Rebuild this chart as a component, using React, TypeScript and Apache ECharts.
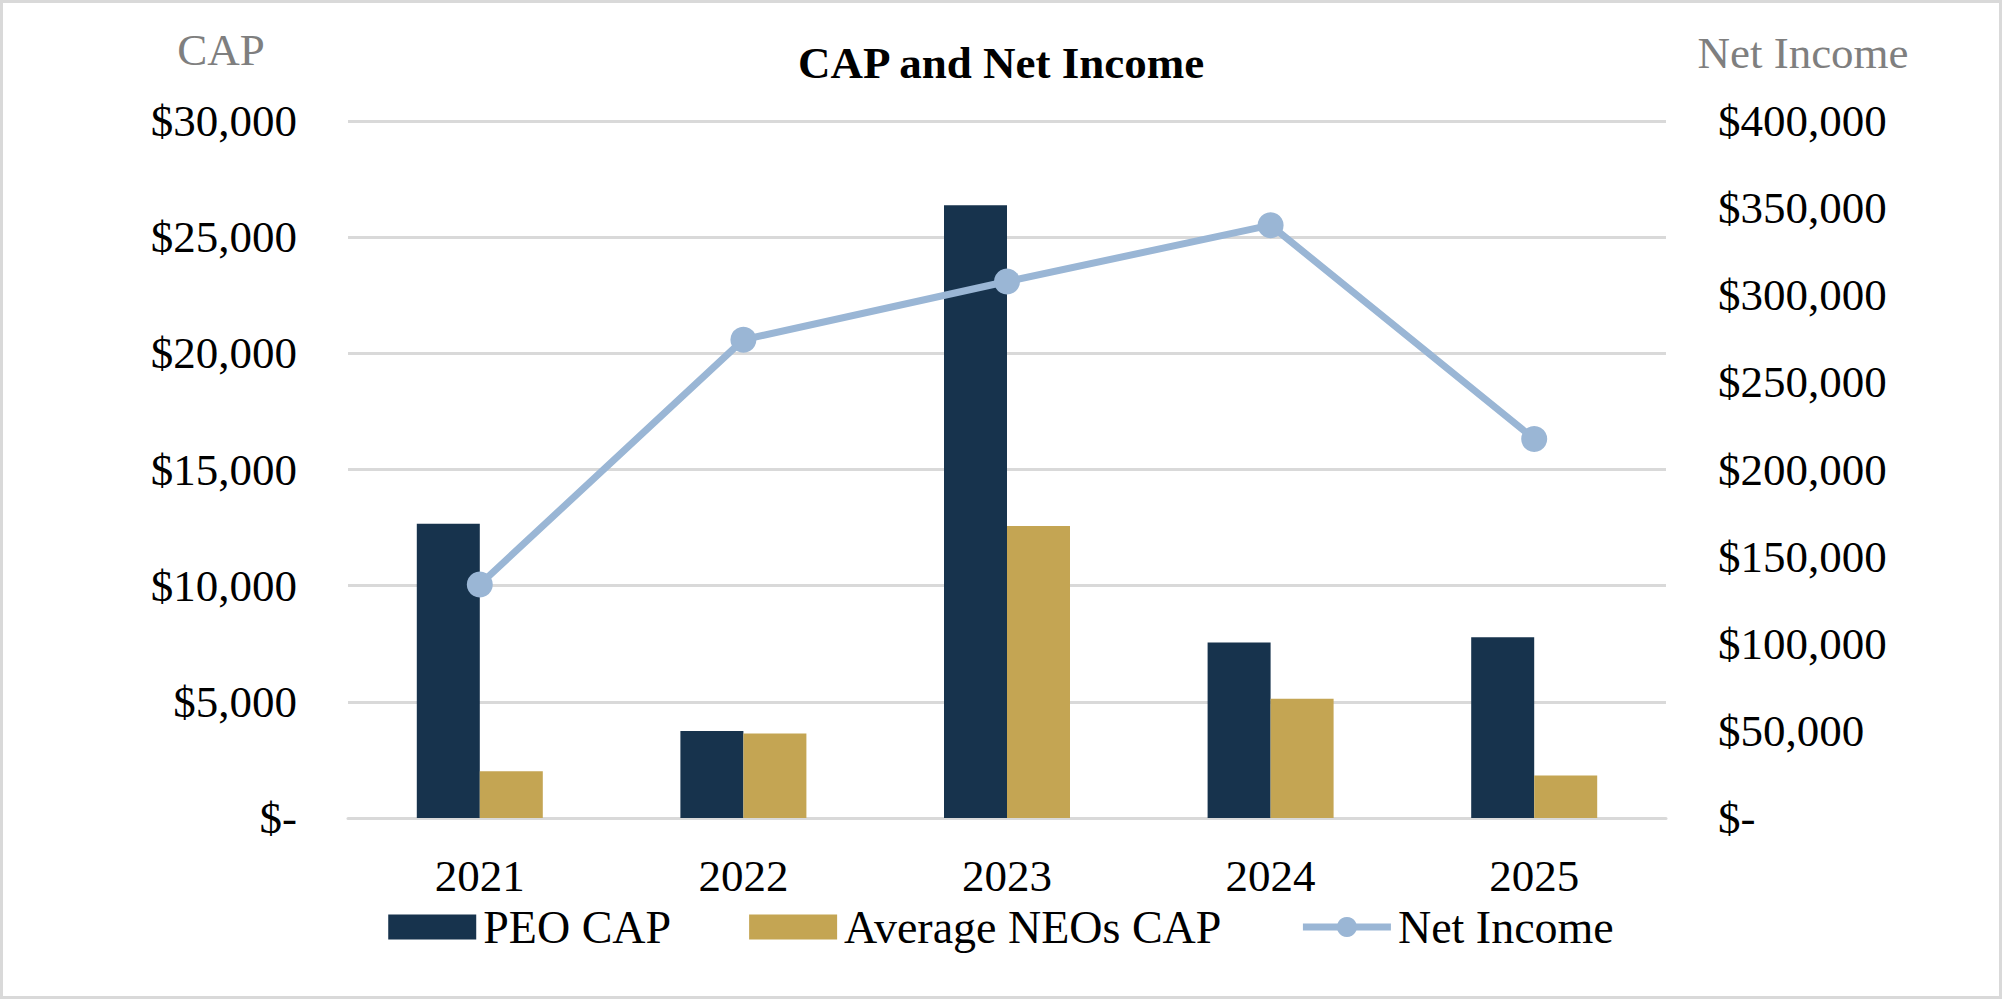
import React, { useEffect, useRef } from "react";
import * as echarts from "echarts";

const categories = ["2021", "2022", "2023", "2024", "2025"];
const peoCap = [12660, 3750, 26370, 7555, 7776];
const neoCap = [2010, 3640, 12570, 5130, 1830];
const netIncome = [134000, 274500, 307900, 340200, 217500];
const leftTicks = { min: 0, max: 30000, interval: 5000 };
const rightTicks = { min: 0, max: 400000, interval: 50000 };

const FONT = "'Liberation Serif', 'Times New Roman', serif";

const money = (v: number) => (v === 0 ? "$-" : "$" + v.toLocaleString("en-US"));

export default function App() {
  const ref = useRef<HTMLDivElement>(null);
  useEffect(() => {
    if (!ref.current) return;
    const chart = echarts.init(ref.current, null, { renderer: "svg" });
    chart.setOption({
      animation: false,
      backgroundColor: "#ffffff",
      textStyle: { fontFamily: FONT },
      title: {
        text: "CAP and Net Income",
        left: "center",
        top: 40,
        padding: 0,
        textStyle: { fontFamily: FONT, fontSize: 45, fontWeight: "bold", color: "#000000" },
      },
      graphic: [
        {
          type: "rect",
          shape: { x: 1.5, y: 1.5, width: 1999, height: 996 },
          style: { fill: "none", stroke: "#D9D9D9", lineWidth: 3 },
          silent: true,
        },
        {
          type: "text",
          x: 221,
          y: 50,
          style: {
            text: "CAP",
            fill: "#7F7F7F",
            font: `45px ${FONT}`,
            textAlign: "center",
            textVerticalAlign: "middle",
          },
        },
        {
          type: "text",
          x: 1803,
          y: 53,
          style: {
            text: "Net Income",
            fill: "#7F7F7F",
            font: `45px ${FONT}`,
            textAlign: "center",
            textVerticalAlign: "middle",
          },
        },
      ],
      legend: {
        bottom: 44,
        left: "center",
        itemWidth: 88,
        itemHeight: 25,
        itemGap: 78,
        textStyle: { fontFamily: FONT, fontSize: 46, color: "#000000", padding: [0, 0, 0, 2] },
        data: [
          { name: "PEO CAP", icon: "rect" },
          { name: "Average NEOs CAP", icon: "rect" },
          { name: "Net Income", lineStyle: { width: 7, color: "#9AB6D5" }, itemStyle: { color: "#9AB6D5" } },
        ],
      },
      grid: { left: 348, right: 336, top: 121, bottom: 181, containLabel: false },
      xAxis: {
        type: "category",
        data: categories,
        axisLine: { show: true, lineStyle: { color: "#D9D9D9", width: 3 } },
        axisTick: { show: false },
        axisLabel: { fontFamily: FONT, fontSize: 45, color: "#000000", margin: 35 },
      },
      yAxis: [
        {
          type: "value",
          min: leftTicks.min,
          max: leftTicks.max,
          interval: leftTicks.interval,
          axisLine: { show: false },
          axisTick: { show: false },
          splitLine: { show: true, lineStyle: { color: "#D9D9D9", width: 3 } },
          axisLabel: { fontFamily: FONT, fontSize: 45, color: "#000000", margin: 51, formatter: money },
        },
        {
          type: "value",
          position: "right",
          min: rightTicks.min,
          max: rightTicks.max,
          interval: rightTicks.interval,
          axisLine: { show: false },
          axisTick: { show: false },
          splitLine: { show: false },
          axisLabel: { fontFamily: FONT, fontSize: 45, color: "#000000", margin: 52, formatter: money },
        },
      ],
      series: [
        {
          name: "PEO CAP",
          type: "bar",
          data: peoCap,
          barWidth: 63,
          barGap: "0%",
          itemStyle: { color: "#17334D" },
        },
        {
          name: "Average NEOs CAP",
          type: "bar",
          data: neoCap,
          barWidth: 63,
          barGap: "0%",
          itemStyle: { color: "#C4A553" },
        },
        {
          name: "Net Income",
          type: "line",
          yAxisIndex: 1,
          data: netIncome,
          symbol: "circle",
          symbolSize: 26,
          lineStyle: { color: "#9AB6D5", width: 7 },
          itemStyle: { color: "#9AB6D5" },
        },
      ],
    });
    return () => chart.dispose();
  }, []);
  return (
    <div
      ref={ref}
      style={{ position: "absolute", left: 0, top: 0, width: 2002, height: 999 }}
    />
  );
}
